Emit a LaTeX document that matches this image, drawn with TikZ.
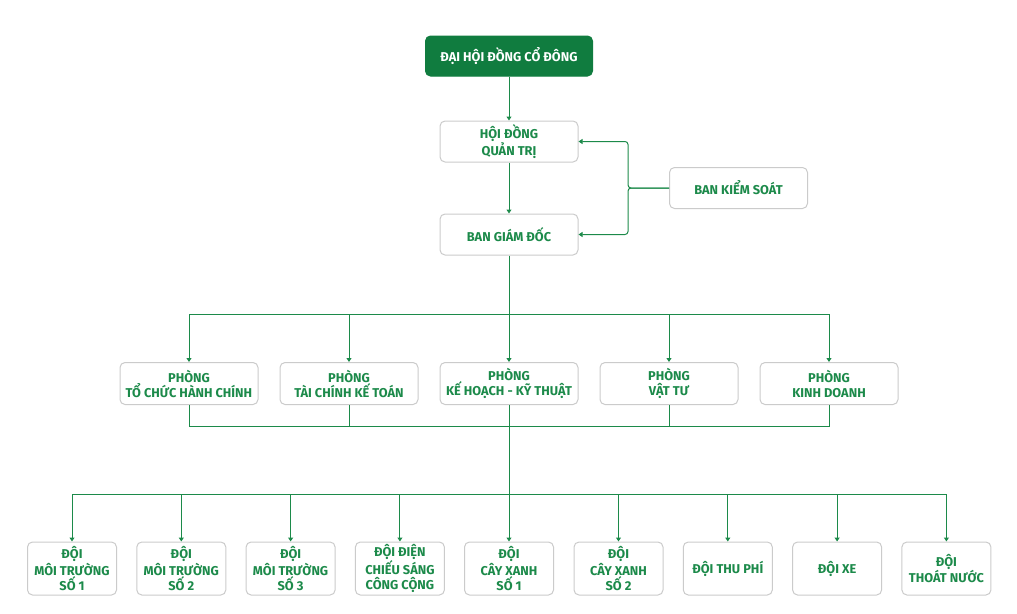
\documentclass[tikz,border=0pt]{standalone}
\usepackage{fontspec}
\setmainfont{Fira Sans}
\usepackage{tikz}
\usetikzlibrary{arrows.meta,calc}
\definecolor{dhgreen}{HTML}{107C3F}
\definecolor{txtgreen}{HTML}{1C8A4A}
\definecolor{boxgray}{HTML}{CBCBCB}

\begin{document}
\begin{tikzpicture}[x=1pt,y=-1pt,
  box/.style={draw=boxgray,line width=1pt,rounded corners=5pt,fill=white,align=center,
    text=txtgreen,inner sep=0pt,font=\bfseries\fontsize{12.8}{15}\selectfont},
  topbox/.style={box,minimum width=138pt,minimum height=41pt},
  phong/.style={box,minimum width=138pt,minimum height=42pt},
  doi/.style={box,minimum width=89pt,minimum height=53pt},
  link/.style={draw=txtgreen,line width=1pt},
  arr/.style={link,-{Triangle[length=4pt,width=5pt]}}]
\useasboundingbox (0,0) rectangle (1017,613);

% top
\node[box,fill=dhgreen,draw=dhgreen,text=white,minimum width=167pt,minimum height=40pt] (dhdcd) at (509,56) {ĐẠI HỘI ĐỒNG CỔ ĐÔNG};
\node[topbox] (hdqt) at (509,141.5) {HỘI ĐỒNG\\QUẢN TRỊ};
\node[topbox] (bgd) at (509,234.5) {BAN GIÁM ĐỐC};
\node[topbox] (bks) at (738.5,188) {BAN KIỂM SOÁT};

\draw[arr] (dhdcd) -- (hdqt);
\draw[arr] (hdqt) -- (bgd);
\coordinate (ks) at (628,188);
\draw[arr,rounded corners=3pt] (bks.west) -- (ks) |- (hdqt.east);
\draw[arr,rounded corners=3pt] (bks.west) -- (ks) |- (bgd.east);

% phong
\node[phong] (tchc) at (189,383.5) {PHÒNG\\TỔ CHỨC HÀNH CHÍNH};
\node[phong] (tckt) at (349,383.5) {PHÒNG\\TÀI CHÍNH KẾ TOÁN};
\node[phong] (khkt) at (509,383.5) {PHÒNG\\KẾ HOẠCH - KỸ THUẬT};
\node[phong] (vt) at (669,383.5) {PHÒNG\\VẬT TƯ};
\node[phong] (kd) at (829,383.5) {PHÒNG\\KINH DOANH};

\coordinate (busA) at (509,314);
\coordinate (busB) at (509,426);
\draw[link] (bgd.south) -- (busA);
\draw[link] (tchc.north |- busA) -- (kd.north |- busA);
\foreach \n in {tchc,tckt,khkt,vt,kd}
  \draw[arr] (\n.north |- busA) -- (\n.north);
\draw[link] (tchc.south) |- (kd.south |- busB) -- (kd.south);
\foreach \n in {tckt,vt}
  \draw[link] (\n.south) -- (\n.south |- busB);

% doi
\node[doi] (mt1) at (72,568.5) {ĐỘI\\MÔI TRƯỜNG\\SỐ 1};
\node[doi] (mt2) at (181.3,568.5) {ĐỘI\\MÔI TRƯỜNG\\SỐ 2};
\node[doi] (mt3) at (290.6,568.5) {ĐỘI\\MÔI TRƯỜNG\\SỐ 3};
\node[doi] (cs) at (399.9,568.5) {ĐỘI ĐIỆN\\CHIẾU SÁNG\\CÔNG CỘNG};
\node[doi] (cx1) at (509,568.5) {ĐỘI\\CÂY XANH\\SỐ 1};
\node[doi] (cx2) at (618.5,568.5) {ĐỘI\\CÂY XANH\\SỐ 2};
\node[doi] (tp) at (727.8,568.5) {ĐỘI THU PHÍ};
\node[doi] (xe) at (837.1,568.5) {ĐỘI XE};
\node[doi] (tn) at (946.4,568.5) {ĐỘI\\THOÁT NƯỚC};

\coordinate (busC) at (509,494);
\draw[link] (khkt.south) -- (busC);
\draw[link] (mt1.north |- busC) -- (tn.north |- busC);
\foreach \n in {mt1,mt2,mt3,cs,cx1,cx2,tp,xe,tn}
  \draw[arr] (\n.north |- busC) -- (\n.north);
\end{tikzpicture}
\end{document}
